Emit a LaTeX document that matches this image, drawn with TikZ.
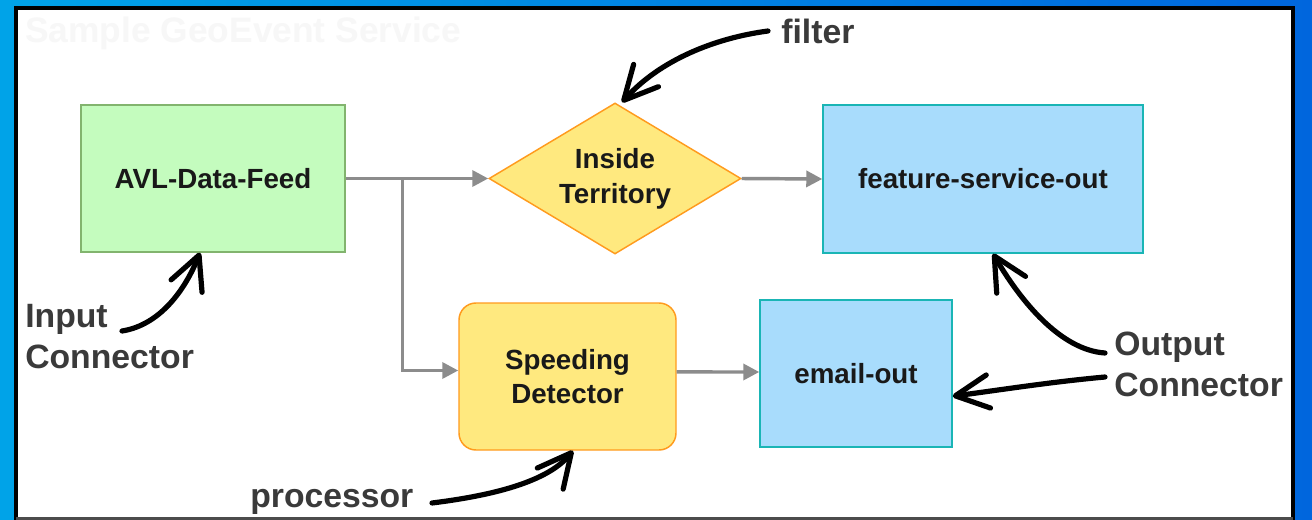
\documentclass[tikz,border=0pt]{standalone}
\usepackage{fontspec}
\setmainfont{Liberation Sans}
\usetikzlibrary{arrows.meta,shapes.geometric,calc}
\definecolor{gfill}{RGB}{196,252,190}
\definecolor{gline}{RGB}{130,180,110}
\definecolor{yfill}{RGB}{255,233,127}
\definecolor{oline}{RGB}{255,155,30}
\definecolor{bfill}{RGB}{168,220,252}
\definecolor{tline}{RGB}{26,181,181}
\definecolor{flowc}{RGB}{140,140,140}
\definecolor{lblc}{RGB}{58,58,58}
\definecolor{bgl}{RGB}{0,163,232}
\definecolor{bgr}{RGB}{0,102,221}
\begin{document}
\begin{tikzpicture}[x=0.75pt,y=-0.75pt,
  boxtxt/.style={font=\fontsize{20.8}{26}\selectfont\bfseries, text=black!90, align=center, inner sep=0pt, line width=1.1pt},
  greenbox/.style={boxtxt, rectangle, draw=gline, fill=gfill},
  bluebox/.style={boxtxt, rectangle, draw=tline, fill=bfill},
  filterbox/.style={boxtxt, diamond, aspect=1.67, draw=oline, fill=yfill},
  procbox/.style={boxtxt, rectangle, rounded corners=12.75pt, draw=oline, fill=yfill},
  flow/.style={draw=flowc, line width=2.6pt, -{Triangle[length=12pt,width=12pt]}},
  ann/.style={draw=black, line width=3.9pt, line cap=round, -{Straight Barb[length=25pt,width=25pt,round]}},
  lbl/.style={font=\fontsize{25.3}{30.75}\selectfont\bfseries, text=lblc, inner sep=0pt}
]
\useasboundingbox (0,0) rectangle (1312,520);
% frame
\fill[left color=bgl, right color=bgr] (0,0) rectangle (1312,520);
\draw[line width=3pt, fill=white] (16,8) rectangle (1293,523);
\draw[line width=2.25pt, black!70] (16,518.5) -- (1293,518.5);
% faint title
\node[anchor=west, font=\fontsize{26.5}{30}\selectfont\bfseries, text=black!3, inner sep=0pt] (ttl) at (25,33) {Sample GeoEvent Service};
% nodes
\node[greenbox, minimum width=198pt, minimum height=110.25pt] (avl) at (213,178.5) {AVL-Data-Feed};
\node[filterbox, minimum width=189pt, minimum height=113.25pt] (dia) at (615,178.5) {Inside\\Territory};
\node[bluebox, minimum width=240pt, minimum height=111pt] (feat) at (983,179) {feature-service-out};
\node[procbox, minimum width=162.75pt, minimum height=110.25pt] (speed) at (567.5,376.5) {Speeding\\Detector};
\node[bluebox, minimum width=144pt, minimum height=110.25pt] (email) at (856,373.5) {email-out};
% flows
\draw[flow] (avl.east) -- (dia.west);
\draw[flow] (dia.east) -- (feat.west);
\draw[flow] ([xshift=42.75pt]avl.east) |- ([yshift=4.5pt]speed.west);
\draw[flow] ([yshift=3.4pt]speed.east) -- ($(speed.east -| email.west)+(0,-4.5)$);
% labels
\node[lbl, anchor=west] (flbl) at (781,31) {filter};
\node[lbl, anchor=north west, align=left] (ilbl) at (25,304) {Input\\Connector};
\node[lbl, anchor=north west, align=left] (olbl) at (1114,332) {Output\\Connector};
\node[lbl, anchor=base west] (plbl) at (250,507) {processor};
% annotation arrows
\coordinate (fs) at (768,31);
\coordinate (is) at (122,331);
\coordinate (ps) at (432,503);
\coordinate (o1) at (1105,353);
\coordinate (o2) at (1105,377);
\draw[ann] (fs) .. controls (715,38) and (660,60) .. ([xshift=5.25pt]dia.north);
\draw[ann] (is) .. controls (160,325) and (185,290) .. ([xshift=-9.75pt]avl.south);
\draw[ann] (ps) .. controls (480,497) and (545,485) .. ([xshift=4.1pt]speed.south);
\draw[ann] (o1) .. controls (1060,350) and (1020,300) .. ([xshift=7.5pt]feat.south);
\draw[ann] (o2) .. controls (1050,382) and (1000,390) .. ([yshift=-17pt]email.east);
\end{tikzpicture}
\end{document}
